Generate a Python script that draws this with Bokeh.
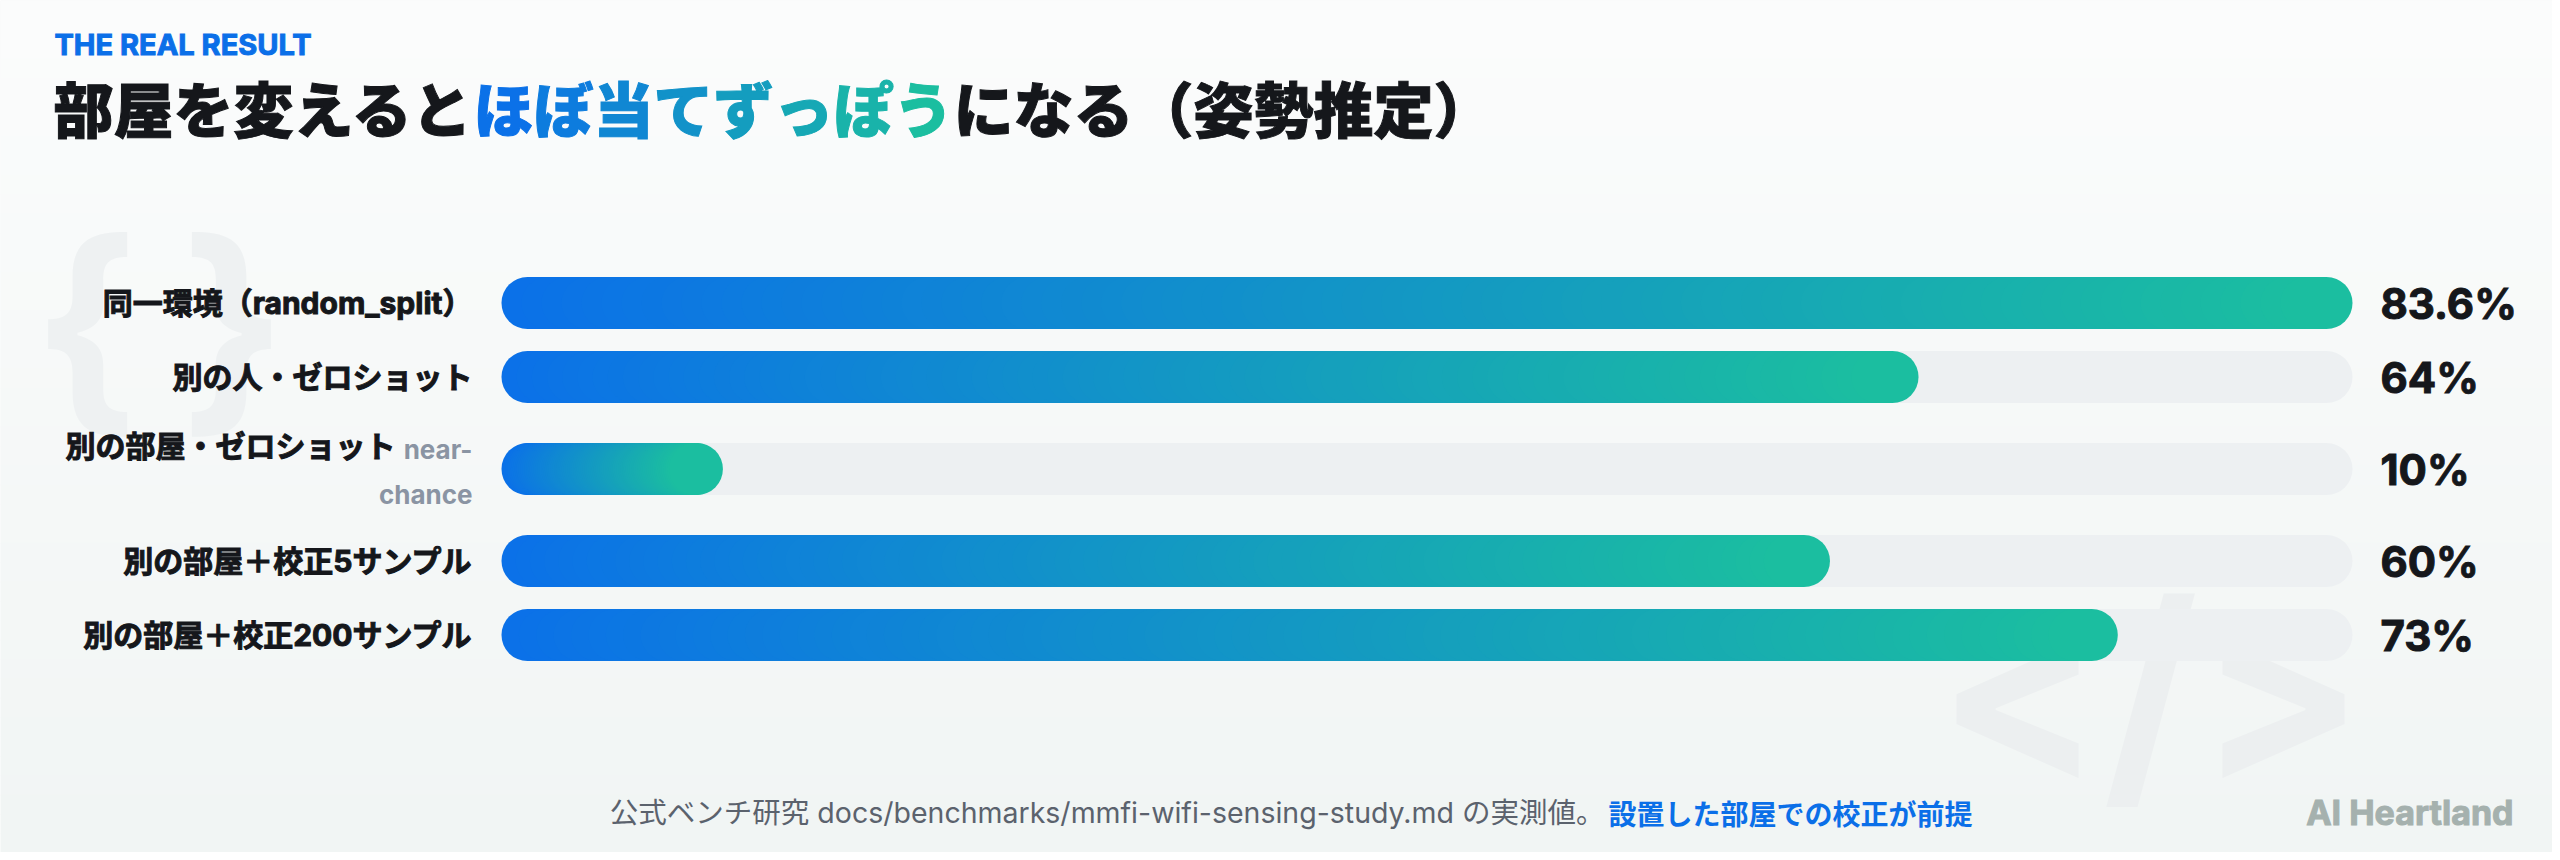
import numpy as np
from bokeh.plotting import figure
from bokeh.models import Range1d, ColumnDataSource
from bokeh.core.properties import value
from bokeh.embed import file_html
from bokeh.resources import INLINE

# ---------------- data ----------------
categories = [
    "同一環境（random_split）",
    "別の人・ゼロショット",
    "別の部屋・ゼロショット",
    "別の部屋＋校正5サンプル",
    "別の部屋＋校正200サンプル",
]
notes = ["", "", "near-chance", "", ""]
values = [83.6, 64, 10, 60, 73]

kicker = "THE REAL RESULT"
title_pre = "部屋を変えると"
title_hi = "ほぼ当てずっぽう"
title_post = "になる（姿勢推定）"
footer_main = "公式ベンチ研究 docs/benchmarks/mmfi-wifi-sensing-study.md の実測値。"
footer_em = "設置した部屋での校正が前提"
brand = "AI Heartland"

# ---------------- layout / style ----------------
W, H = 2552, 852
TRACK_X0 = 501          # px where value 0 sits
TRACK_W = 1851          # px length of full track (max value)
BAR_H = 52
ROW_H = [74, 74, 110, 74, 74]
FIRST_CENTER = 302.5

C_BLUE = (11, 113, 232)
C_TEAL = (27, 190, 160)
TRACK_COLOR = "#EDF0F2"
INK = "#15171B"
JP = "'Noto Sans CJK JP'"
LAT_JP = "Inter, 'Noto Sans CJK JP'"
JP_HEAVY = "'Noto Sans CJK JP Black', 'Noto Sans CJK JP'"

xmax = max(values)
ppu = TRACK_W / xmax
x_start = -TRACK_X0 / ppu
x_end = (W - TRACK_X0) / ppu


def xd(px):
    return x_start + px / ppu


def mix(t):
    r = [int(round(a + (b - a) * t)) for a, b in zip(C_BLUE, C_TEAL)]
    return "#%02x%02x%02x" % tuple(r)


centers = [FIRST_CENTER]
for i in range(1, len(ROW_H)):
    centers.append(centers[-1] + (ROW_H[i - 1] + ROW_H[i]) / 2)

p = figure(width=W, height=H, x_range=Range1d(x_start, x_end), y_range=Range1d(H, 0),
           output_backend="svg", toolbar_location=None, min_border=0,
           x_axis_location=None, y_axis_location=None)
p.grid.visible = False
p.outline_line_color = None
p.background_fill_color = "#F6F8F8"
p.border_fill_color = "#F6F8F8"

# background vertical gradient
nb = 44
ys = np.linspace(0, H, nb + 1)
top_c = np.array([251, 252, 252])
bot_c = np.array([241, 245, 244])
bg_cols = []
for k in range(nb):
    t = k / (nb - 1)
    c = (top_c + (bot_c - top_c) * t).round().astype(int)
    bg_cols.append("#%02x%02x%02x" % tuple(c))
p.quad(left=x_start, right=x_end, top=ys[:-1], bottom=ys[1:] + 1, fill_color=bg_cols, line_color=None)

# decorative glyphs
p.text(x=[xd(85), xd(233)], y=[323, 323], text=["{", "}"], text_align="center", text_baseline="middle",
       text_font=value("Inter"), text_font_style="bold", text_font_size="225px", text_color="#EEF1F2")
p.text(x=[xd(2150)], y=[690], text=["</>"], text_align="center", text_baseline="middle",
       text_font=value("Inter"), text_font_style="bold", text_font_size="245px", text_color="#ECEFF0")

# tracks
r_d = (BAR_H / 2) / ppu
p.segment(x0=[r_d] * len(values), y0=centers, x1=[xmax - r_d] * len(values), y1=centers,
          line_width=BAR_H, line_color=TRACK_COLOR, line_cap="round")

# gradient bars (sliced)
N = 90
sx0, sx1, sy, scol = [], [], [], []
for v, c in zip(values, centers):
    edges = np.linspace(r_d, v - r_d, N + 1)
    for k in range(N):
        sx0.append(edges[k])
        sx1.append(edges[k + 1])
        sy.append(c)
        scol.append(mix((k + 0.5) / N))
src = ColumnDataSource(dict(x0=sx0, x1=sx1, y=sy, c=scol))
p.segment(x0="x0", y0="y", x1="x1", y1="y", source=src, line_width=BAR_H, line_color="c", line_cap="round")

# category labels
LABEL_RIGHT = 472
for cat, note, c in zip(categories, notes, centers):
    if note:
        head, tail = note.split("-", 1)
        head = head + "-"
        p.text(x=[xd(LABEL_RIGHT)], y=[c - 20], text=[head], text_align="right",
               text_baseline="middle", text_font=value(LAT_JP), text_font_style="bold",
               text_font_size="26px", text_color="#8A94A3")
        p.text(x=[xd(LABEL_RIGHT)], y=[c + 25], text=[tail], text_align="right",
               text_baseline="middle", text_font=value(LAT_JP), text_font_style="bold",
               text_font_size="26px", text_color="#8A94A3")
        p.text(x=[xd(LABEL_RIGHT - 77)], y=[c - 23], text=[cat], text_align="right",
               text_baseline="middle", text_font=value(LAT_JP), text_font_style="bold",
               text_font_size="30px", text_color=INK, text_outline_color=INK)
    else:
        p.text(x=[xd(LABEL_RIGHT)], y=[c], text=[cat], text_align="right",
               text_baseline="middle", text_font=value(LAT_JP), text_font_style="bold",
               text_font_size="30px", text_color=INK, text_outline_color=INK)

# value labels
vlabels = [f"{v:g}%" for v in values]
p.text(x=[xd(2380)] * len(values), y=centers, text=vlabels,
       text_align="left", text_baseline="middle", text_font=value("Inter"),
       text_font_style="bold", text_font_size="42px", text_color=INK, text_outline_color=INK)

# kicker
p.text(x=[xd(54)], y=[44], text=[kicker], text_align="left", text_baseline="middle",
       text_font=value("Inter"), text_font_style="bold", text_font_size="29px", text_color="#0B6FE8",
       text_outline_color="#0B6FE8")

# title
FS = 60
TX = 53
TY = 106
p.text(x=[xd(TX)], y=[TY], text=[title_pre], text_align="left", text_baseline="middle",
       text_font=value(JP_HEAVY), text_font_style="bold", text_font_size=f"{FS}px", text_color=INK,
       text_outline_color=INK)
hx = [xd(TX + FS * (len(title_pre) + i)) for i in range(len(title_hi))]
hc = [mix(i / (len(title_hi) - 1)) for i in range(len(title_hi))]
p.text(x=hx, y=[TY] * len(title_hi), text=list(title_hi), text_align="left", text_baseline="middle",
       text_font=value(JP_HEAVY), text_font_style="bold", text_font_size=f"{FS}px", text_color=hc,
       text_outline_color=hc)
p.text(x=[xd(TX + FS * (len(title_pre) + len(title_hi)))], y=[TY], text=[title_post],
       text_align="left", text_baseline="middle", text_font=value(JP_HEAVY), text_font_style="bold",
       text_font_size=f"{FS}px", text_color=INK, text_outline_color=INK)

# footer
p.text(x=[xd(1604)], y=[812], text=[footer_main], text_align="right", text_baseline="middle",
       text_font=value(LAT_JP), text_font_size="28.5px", text_color="#5B626D")
p.text(x=[xd(1608)], y=[812], text=[footer_em], text_align="left", text_baseline="middle",
       text_font=value(JP), text_font_style="bold", text_font_size="28px", text_color="#0B6FE8")
p.text(x=[xd(2513)], y=[812], text=[brand], text_align="right", text_baseline="middle",
       text_font=value("Inter"), text_font_style="bold", text_font_size="34px", text_color="#A5B1AE",
       text_outline_color="#A5B1AE")

open("out.html", "w").write(file_html(p, INLINE))
